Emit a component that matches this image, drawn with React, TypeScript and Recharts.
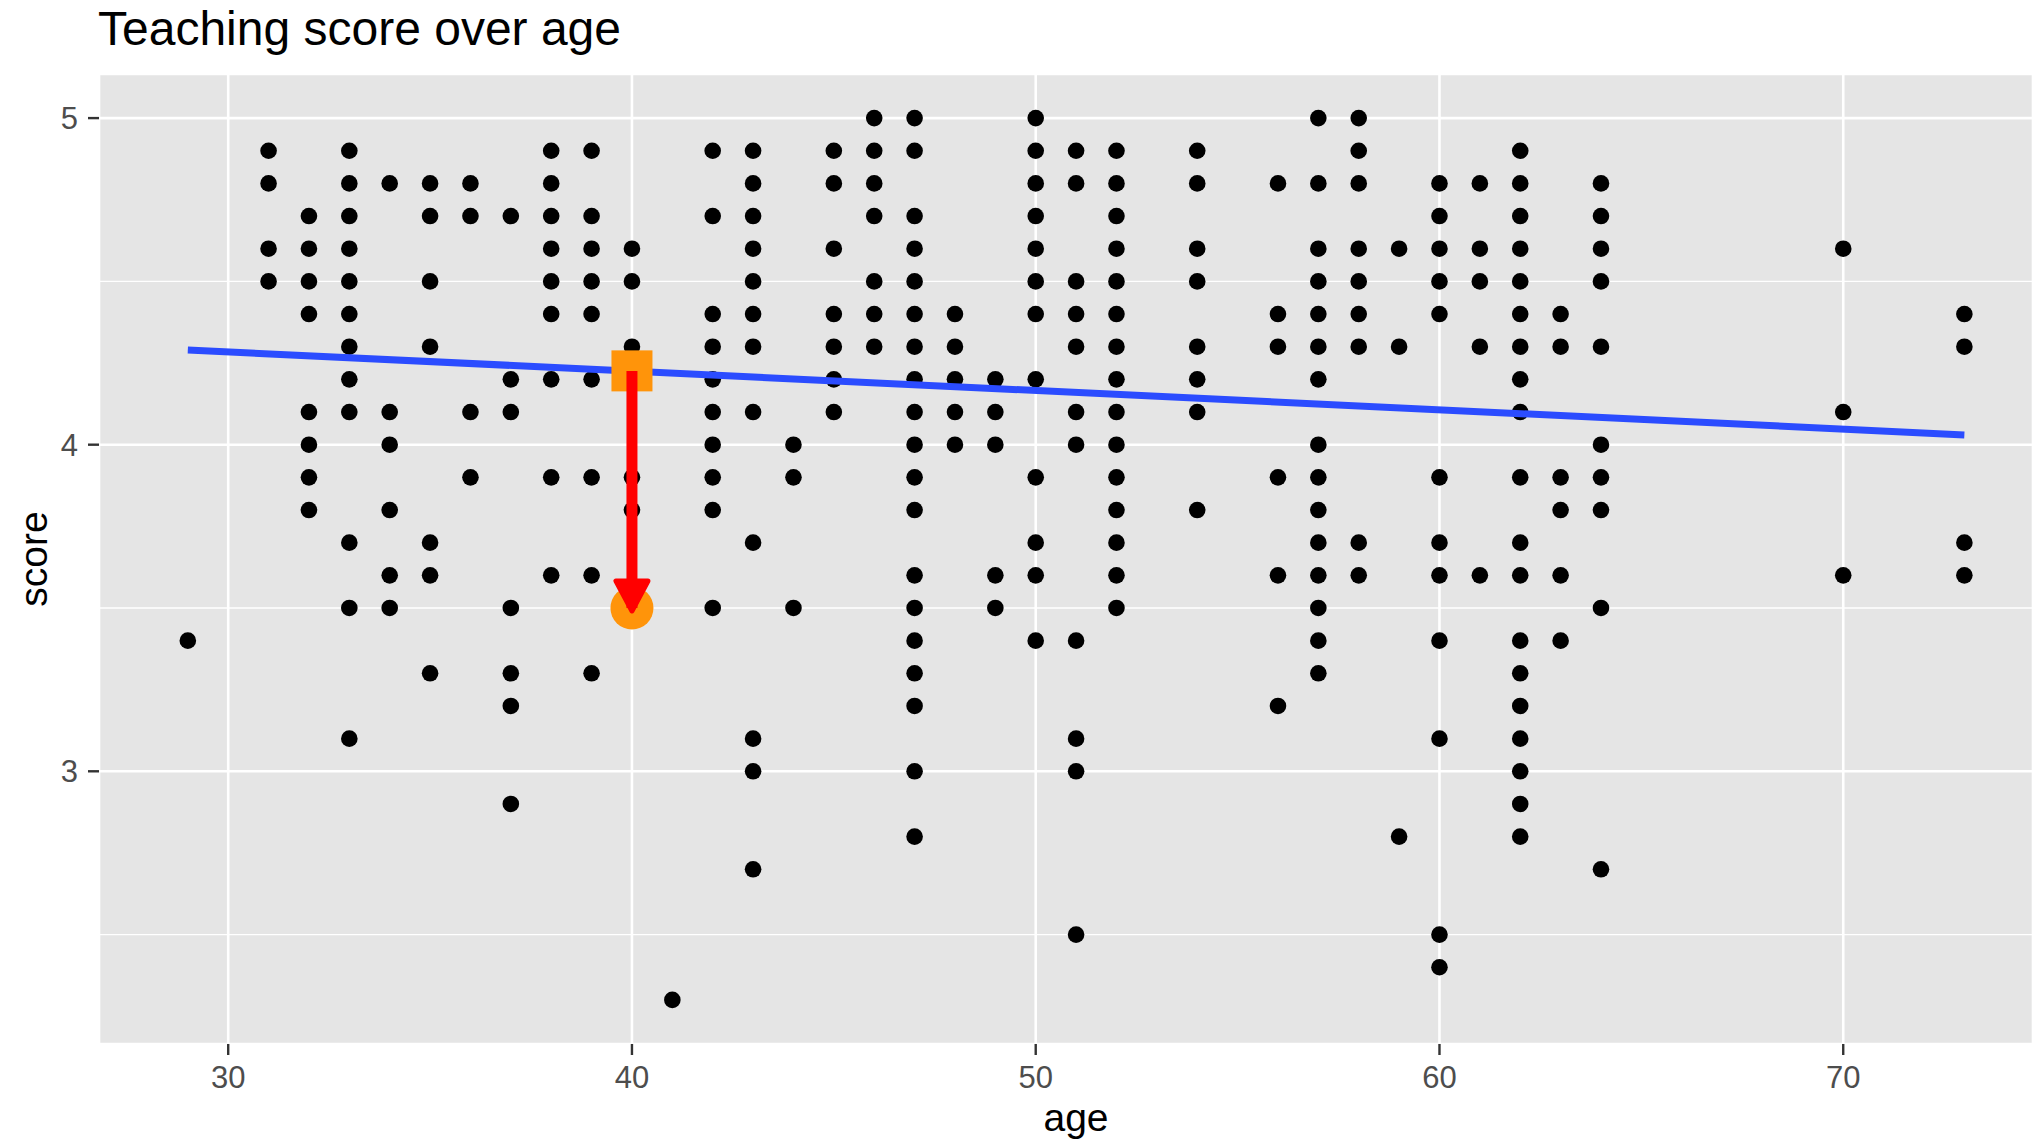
import React from "react";
import { ScatterChart, Scatter, XAxis, YAxis, CartesianGrid } from "recharts";

// ages present in the data, and the scores seen at each age (same order)
const ages = [29, 31, 32, 33, 34, 35, 36, 37, 38, 39, 40, 41, 42, 43, 44, 45, 46, 47, 48, 49, 50, 51, 52, 54, 56, 57, 58, 59, 60, 61, 62, 63, 64, 70, 73];
const scores = [
  [3.4],
  [4.9, 4.8, 4.6, 4.5],
  [4.7, 4.6, 4.5, 4.4, 4.1, 4.0, 3.9, 3.8],
  [4.9, 4.8, 4.7, 4.6, 4.5, 4.4, 4.3, 4.2, 4.1, 3.7, 3.5, 3.1],
  [4.8, 4.1, 4.0, 3.8, 3.6, 3.5],
  [4.8, 4.7, 4.5, 4.3, 3.7, 3.6, 3.3],
  [4.8, 4.7, 4.1, 3.9],
  [4.7, 4.2, 4.1, 3.5, 3.3, 3.2, 2.9],
  [4.9, 4.8, 4.7, 4.6, 4.5, 4.4, 4.2, 3.9, 3.6],
  [4.9, 4.7, 4.6, 4.5, 4.4, 4.2, 3.9, 3.6, 3.3],
  [4.6, 4.5, 4.3, 3.9, 3.8, 3.5],
  [2.3],
  [4.9, 4.7, 4.4, 4.3, 4.2, 4.1, 4.0, 3.9, 3.8, 3.5],
  [4.9, 4.8, 4.7, 4.6, 4.5, 4.4, 4.3, 4.1, 3.7, 3.1, 3.0, 2.7],
  [4.0, 3.9, 3.5],
  [4.9, 4.8, 4.6, 4.4, 4.3, 4.2, 4.1],
  [5.0, 4.9, 4.8, 4.7, 4.5, 4.4, 4.3],
  [5.0, 4.9, 4.7, 4.6, 4.5, 4.4, 4.3, 4.2, 4.1, 4.0, 3.9, 3.8, 3.6, 3.5, 3.4, 3.3, 3.2, 3.0, 2.8],
  [4.4, 4.3, 4.2, 4.1, 4.0],
  [4.2, 4.1, 4.0, 3.6, 3.5],
  [5.0, 4.9, 4.8, 4.7, 4.6, 4.5, 4.4, 4.2, 3.9, 3.7, 3.6, 3.4],
  [4.9, 4.8, 4.5, 4.4, 4.3, 4.1, 4.0, 3.4, 3.1, 3.0, 2.5],
  [4.9, 4.8, 4.7, 4.6, 4.5, 4.4, 4.3, 4.2, 4.1, 4.0, 3.9, 3.8, 3.7, 3.6, 3.5],
  [4.9, 4.8, 4.6, 4.5, 4.3, 4.2, 4.1, 3.8],
  [4.8, 4.4, 4.3, 3.9, 3.6, 3.2],
  [5.0, 4.8, 4.6, 4.5, 4.4, 4.3, 4.2, 4.0, 3.9, 3.8, 3.7, 3.6, 3.5, 3.4, 3.3],
  [5.0, 4.9, 4.8, 4.6, 4.5, 4.4, 4.3, 3.7, 3.6],
  [4.6, 4.3, 2.8],
  [4.8, 4.7, 4.6, 4.5, 4.4, 3.9, 3.7, 3.6, 3.4, 3.1, 2.5, 2.4],
  [4.8, 4.6, 4.5, 4.3, 3.6],
  [4.9, 4.8, 4.7, 4.6, 4.5, 4.4, 4.3, 4.2, 4.1, 3.9, 3.7, 3.6, 3.4, 3.3, 3.2, 3.1, 3.0, 2.9, 2.8],
  [4.4, 4.3, 3.9, 3.8, 3.6, 3.4],
  [4.8, 4.7, 4.6, 4.5, 4.3, 4.0, 3.9, 3.8, 3.5, 2.7],
  [4.6, 4.1, 3.6],
  [4.4, 4.3, 3.7, 3.6],
];

// fitted line end points
const fitAges = [29, 73];
const fitScores = [4.29, 4.03];

// highlighted observation: fitted value and actual score at age 40
const highlightAge = 40;
const fittedScore = 4.226;
const actualScore = 3.5;

const xTicks = [30, 40, 50, 60, 70];
const xMinor = [35, 45, 55, 65];
const yTicks = [3, 4, 5];
const yMinor = [2.5, 3.5, 4.5];
const xDomain = [26.8, 74.7];
const yDomain = [2.165, 5.135];

const font = "'Liberation Sans', Arial, Helvetica, sans-serif";

const points = ages.flatMap((a, i) => scores[i].map((s) => ({ age: a, score: s })));
const fit = fitAges.map((a, i) => ({ age: a, score: fitScores[i] }));
const fitted = [{ age: highlightAge, score: fittedScore }];
const actual = [{ age: highlightAge, score: actualScore }];
const residual = [fitted[0], actual[0]];

const Dot = (p: any) => <circle cx={p.cx} cy={p.cy} r={8.3} fill="#000000" />;
const Square = (p: any) => (
  <rect x={p.cx - 20.5} y={p.cy - 20.5} width={41} height={41} fill="#FF940A" />
);
const BigDot = (p: any) => <circle cx={p.cx} cy={p.cy} r={21.5} fill="#FF940A" />;
const ArrowHead = (p: any) => {
  if (p.payload.score !== actualScore) return <g />;
  const { cx, cy } = p;
  return (
    <polygon
      points={`${cx - 16},${cy - 27} ${cx + 16},${cy - 27} ${cx},${cy + 3}`}
      fill="#FF0000"
      stroke="#FF0000"
      strokeWidth={5}
      strokeLinejoin="round"
    />
  );
};
const Nothing = () => <g />;

const tickStyle = { fill: "#4D4D4D", fontSize: 31, fontFamily: font };
const tickLine = { stroke: "#333333", strokeWidth: 2.4 };

export default function App() {
  return (
    <div style={{ position: "absolute", left: 0, top: 0, width: 2033, height: 1145, background: "#ffffff", overflow: "hidden" }}>
      <ScatterChart width={2033} height={1145} margin={{ top: 74, right: 0, bottom: 0, left: 0 }}>
        <XAxis xAxisId="minor" type="number" domain={xDomain} ticks={xMinor} hide allowDataOverflow />
        <YAxis yAxisId="minor" type="number" domain={yDomain} ticks={yMinor} hide allowDataOverflow />
        <CartesianGrid xAxisId="minor" yAxisId="minor" fill="#E5E5E5" fillOpacity={1} stroke="#FFFFFF" strokeWidth={1.3} />
        <CartesianGrid stroke="#FFFFFF" strokeWidth={2.6} />
        <XAxis
          type="number"
          dataKey="age"
          domain={xDomain}
          ticks={xTicks}
          interval={0}
          allowDataOverflow
          height={101}
          axisLine={false}
          tickLine={tickLine}
          tickSize={11}
          tickMargin={11}
          tick={tickStyle}
        />
        <YAxis
          type="number"
          dataKey="score"
          domain={yDomain}
          ticks={yTicks}
          interval={0}
          allowDataOverflow
          width={99}
          axisLine={false}
          tickLine={tickLine}
          tickSize={11}
          tickMargin={10}
          tick={tickStyle}
        />
        <Scatter data={points} shape={Dot} isAnimationActive={false} />
        <Scatter data={fit} shape={Nothing} line={{ stroke: "#2B4CFF", strokeWidth: 7 }} isAnimationActive={false} />
        <Scatter data={fitted} shape={Square} isAnimationActive={false} />
        <Scatter data={actual} shape={BigDot} isAnimationActive={false} />
        <Scatter data={residual} shape={ArrowHead} line={{ stroke: "#FF0000", strokeWidth: 11 }} isAnimationActive={false} />
      </ScatterChart>
      <svg width={2033} height={1145} style={{ position: "absolute", left: 0, top: 0, pointerEvents: "none" }}>
        <text x={98} y={45} fontSize={48} fontFamily={font} fill="#000000">
          Teaching score over age
        </text>
        <text x={1076} y={1131} fontSize={39} fontFamily={font} fill="#000000" textAnchor="middle">
          age
        </text>
        <text
          transform="translate(47, 559) rotate(-90)"
          fontSize={39}
          fontFamily={font}
          fill="#000000"
          textAnchor="middle"
        >
          score
        </text>
      </svg>
    </div>
  );
}
